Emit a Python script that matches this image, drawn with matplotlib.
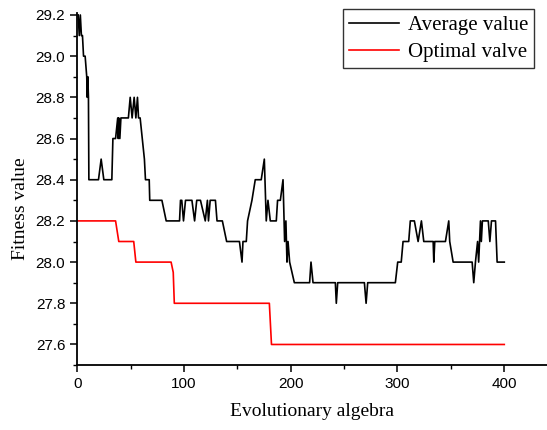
import matplotlib
matplotlib.use("Agg")
from matplotlib import pyplot as plt
from matplotlib.ticker import MultipleLocator

# average value (black) - breakpoints
avg_gen = [1, 2, 3, 4, 5, 6, 7.5, 9, 9.5, 10, 10.6, 11, 20, 22.5, 25, 32.5, 33.5, 36,
           38, 38.5, 39, 40, 41, 48, 49.7, 51.5, 53.4, 55, 56.5, 57.5, 59, 63, 64, 67.5,
           68, 79.4, 83.4, 95.9, 96.8, 98, 99.6, 101.5, 107.5, 110, 112, 115.5, 120,
           122, 123, 124.6, 129.5, 131, 136, 140, 152, 154.4, 155.3, 158.4, 159.6,
           163.7, 166.8, 172.4, 175.3, 177.1, 178.7, 180.9, 186.5, 187.7, 190.3, 192.8,
           194.3, 195.5, 196.5, 197.5, 199, 203.4, 217.7, 219, 220.9, 241.8, 242.7, 244,
           269, 270.6, 272.1, 298, 300.2, 303.5, 305.2, 310.5, 312, 315.8, 319.3, 322.4,
           324.6, 333.4, 334, 334.9, 344.9, 348, 348.9, 352.1, 369.9, 371.4, 373, 375,
           376, 377.7, 378.5, 379.5, 385, 386.5, 388, 391.8, 393.3, 400]
avg_val = [29.2, 29.1, 29.2, 29.1, 29.1, 29.0, 29.0, 28.9, 28.8, 28.9, 28.8, 28.4, 28.4, 28.5, 28.4, 28.4, 28.6, 28.6,
           28.7, 28.6, 28.7, 28.6, 28.7, 28.7, 28.8, 28.7, 28.8, 28.7, 28.8, 28.7, 28.7, 28.5, 28.4, 28.4,
           28.3, 28.3, 28.2, 28.2, 28.3, 28.3, 28.2, 28.3, 28.3, 28.2, 28.3, 28.3, 28.2,
           28.3, 28.2, 28.3, 28.3, 28.2, 28.2, 28.1, 28.1, 28.0, 28.1, 28.1, 28.2,
           28.3, 28.4, 28.4, 28.5, 28.2, 28.3, 28.2, 28.2, 28.3, 28.3, 28.4,
           28.1, 28.2, 28.0, 28.1, 28.0, 27.9, 27.9, 28.0, 27.9, 27.9, 27.8, 27.9,
           27.9, 27.8, 27.9, 27.9, 28.0, 28.0, 28.1, 28.1, 28.2, 28.2, 28.1, 28.2,
           28.1, 28.1, 28.0, 28.1, 28.1, 28.2, 28.1, 28.0, 28.0, 27.9, 28.0, 28.1,
           28.0, 28.2, 28.1, 28.2, 28.2, 28.1, 28.2, 28.2, 28.0, 28.0]

# optimal value (red)
opt_gen = [0, 36, 39, 53, 55, 88, 90, 91, 180, 182, 400]
opt_val = [28.2, 28.2, 28.1, 28.1, 28.0, 28.0, 27.95, 27.8, 27.8, 27.6, 27.6]

fig = plt.figure(figsize=(5.47, 4.30), dpi=100)
ax = fig.add_axes([0.141, 0.151, 0.859, 0.819])

ax.plot(avg_gen, avg_val, color="black", lw=1.2, label="Average value")
ax.plot(opt_gen, opt_val, color="red", lw=1.2, label="Optimal valve")

ax.set_xlim(0, 440)
ax.set_ylim(27.5, 29.21)
ax.xaxis.set_major_locator(MultipleLocator(100))
ax.xaxis.set_minor_locator(MultipleLocator(50))
ax.yaxis.set_major_locator(MultipleLocator(0.2))
ax.yaxis.set_minor_locator(MultipleLocator(0.1))
ax.yaxis.set_major_formatter(plt.FormatStrFormatter("%.1f"))

for s in ["top", "right"]:
    ax.spines[s].set_visible(False)
for s in ["left", "bottom"]:
    ax.spines[s].set_linewidth(1.3)

ax.tick_params(which="major", direction="out", length=5, width=1.1, labelsize=11)
ax.tick_params(which="minor", direction="out", length=3, width=1.0)
for lab in ax.get_xticklabels() + ax.get_yticklabels():
    lab.set_family("Liberation Sans")

serif = "Liberation Serif"
ax.set_xlabel("Evolutionary algebra", family=serif, fontsize=14, labelpad=9)
ax.set_ylabel("Fitness value", family=serif, fontsize=14)
ax.yaxis.set_label_coords(-0.102, 0.443)

leg = ax.legend(loc="upper right", bbox_to_anchor=(0.973, 1.01),
                prop={"family": serif, "size": 15}, fancybox=False,
                edgecolor="black", handlelength=2.4, borderpad=0.3,
                labelspacing=0.35, handletextpad=0.4, borderaxespad=0)
leg.get_frame().set_linewidth(1.0)

fig.savefig("out.png", dpi=100)
